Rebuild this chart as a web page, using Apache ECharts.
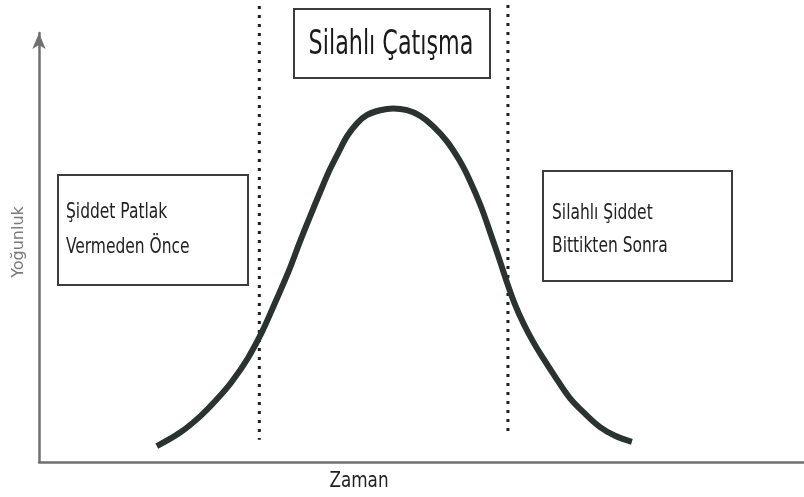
<!DOCTYPE html>
<html><head><meta charset="utf-8">
<script src="https://cdn.jsdelivr.net/npm/echarts@6/dist/echarts.min.js"></script>
<style>html,body{margin:0;padding:0;background:#fff}#c{width:804px;height:497px}</style>
</head><body><div id="c"></div>
<script>
// Curve data (time in 0–100 units, intensity in 0–100 units)
const timeValues = [15.4, 18.4, 21.1, 23.4, 25.2, 27.3, 29.2, 30.9, 32.6, 34.1, 35.4, 36.7, 38.0, 39.1, 40.3, 41.6, 42.9, 44.6, 46.3, 48.1, 49.8, 51.5, 53.3, 55.0, 56.3, 57.7, 59.0, 60.3, 61.2, 62.2, 63.3, 64.6, 65.9, 67.5, 69.4, 71.4, 73.3, 75.3, 77.5];
const intensityValues = [3.7, 6.8, 10.7, 14.9, 18.7, 24.2, 30.5, 37.3, 44.3, 51.3, 57.1, 62.7, 68.1, 72.0, 76.0, 79.0, 80.9, 82.0, 82.4, 82.0, 80.7, 78.3, 74.8, 70.2, 65.7, 59.9, 53.4, 46.6, 41.7, 36.8, 32.4, 28.0, 24.2, 19.8, 14.9, 11.2, 8.2, 6.1, 4.7];
// Phase boundaries (time), with their top/bottom extents (0–100 of full height)
const boundaryTimes = [28.8, 61.3];
const boundaryTops = [98.7, 98.9];
const boundaryBottoms = [4.8, 5.4];
// Texts
const phaseLabels = ['Şiddet Patlak\nVermeden Önce', 'Silahlı Çatışma', 'Silahlı Şiddet\nBittikten Sonra'];
const xAxisTitle = 'Zaman';
const yAxisTitle = 'Yoğunluk';

const NARROW = "'Liberation Sans Narrow','DejaVu Sans Condensed',sans-serif";
const chart = echarts.init(document.getElementById('c'), null, {renderer: 'canvas'});
const curveData = timeValues.map((t, i) => [t, intensityValues[i]]);
const axisGrey = '#707070';

const boundarySeries = boundaryTimes.map((t, i) => ({
  type: 'line', xAxisIndex: 1, yAxisIndex: 1, symbol: 'none', silent: true,
  data: [[t, boundaryTops[i]], [t, boundaryBottoms[i]]],
  lineStyle: {color: '#1e1e1e', width: 3, type: [3, 6], cap: 'butt'}, z: 1
}));

const boxStyle = {fill: '#fff', stroke: '#3c3c3c', lineWidth: 2};
chart.setOption({
  animation: false,
  backgroundColor: '#fff',
  grid: [
    {left: 39, right: 0, top: 33, bottom: 35},
    {left: 39, right: 0, top: 0, bottom: 35}
  ],
  xAxis: [
    {type: 'value', gridIndex: 0, min: 0, max: 100,
     axisLine: {show: true, lineStyle: {color: axisGrey, width: 2.5}},
     axisTick: {show: false}, axisLabel: {show: false}, splitLine: {show: false}},
    {type: 'value', gridIndex: 1, min: 0, max: 100, show: false}
  ],
  yAxis: [
    {type: 'value', gridIndex: 0, min: 0, max: 100,
     axisLine: {show: true, symbol: ['none', 'arrow'], symbolSize: [10, 16], lineStyle: {color: axisGrey, width: 2.5}},
     axisTick: {show: false}, axisLabel: {show: false}, splitLine: {show: false}},
    {type: 'value', gridIndex: 1, min: 0, max: 100, show: false}
  ],
  series: [
    {type: 'line', xAxisIndex: 0, yAxisIndex: 0, data: curveData, smooth: 0.35, symbol: 'none',
     lineStyle: {color: '#2a3330', width: 6, cap: 'butt'}, z: 3}
  ].concat(boundarySeries),
  graphic: [
    {type: 'rect', shape: {x: 58, y: 175, width: 190, height: 110}, style: boxStyle, z: 5},
    {type: 'text', x: 66, y: 195, scaleX: 0.82, z: 6, style: {text: phaseLabels[0], font: '21px ' + NARROW, fill: '#222', lineHeight: 35, verticalAlign: 'top'}},
    {type: 'rect', shape: {x: 294, y: 9, width: 196, height: 69}, style: boxStyle, z: 5},
    {type: 'text', x: 391, y: 45, scaleX: 0.75, z: 6, style: {text: phaseLabels[1], font: '33px ' + NARROW, fill: '#1a1a1a', align: 'center', verticalAlign: 'middle'}},
    {type: 'rect', shape: {x: 543, y: 171, width: 189, height: 110}, style: boxStyle, z: 5},
    {type: 'text', x: 552, y: 197, scaleX: 0.82, z: 6, style: {text: phaseLabels[2], font: '21px ' + NARROW, fill: '#222', lineHeight: 33, verticalAlign: 'top'}},
    {type: 'text', x: 359, y: 481, scaleX: 0.85, z: 6, style: {text: xAxisTitle, font: '22px ' + NARROW, fill: '#222', align: 'center', verticalAlign: 'middle'}},
    {type: 'text', x: 19, y: 242, rotation: Math.PI / 2, z: 6, style: {text: yAxisTitle, font: '16px "DejaVu Sans", sans-serif', fill: '#7a7a7a', align: 'center', verticalAlign: 'middle'}}
  ]
});
</script>
</body></html>
